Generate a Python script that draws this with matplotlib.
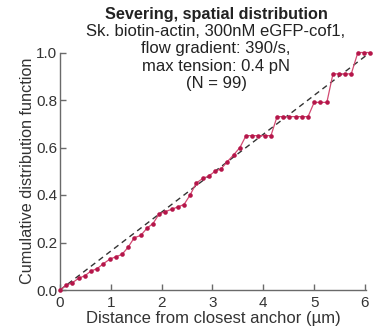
import matplotlib.pyplot as plt

plt.rcParams.update({"font.family": "Liberation Sans"})

# binned cumulative distribution of severing positions (N = 99)
distance_um = [0.00, 0.12, 0.24, 0.37, 0.49, 0.61, 0.73, 0.85, 0.98, 1.10,
               1.22, 1.34, 1.46, 1.59, 1.71, 1.83, 1.95, 2.07, 2.20, 2.32,
               2.44, 2.56, 2.68, 2.81, 2.93, 3.05, 3.17, 3.29, 3.42, 3.54,
               3.66, 3.78, 3.90, 4.03, 4.15, 4.27, 4.39, 4.51, 4.64, 4.76,
               4.88, 5.00, 5.12, 5.25, 5.37, 5.49, 5.61, 5.73, 5.86, 5.98,
               6.10]
cdf = [0.00, 0.02, 0.03, 0.05, 0.06, 0.08, 0.09, 0.11, 0.13, 0.14,
       0.15, 0.18, 0.22, 0.23, 0.26, 0.28, 0.32, 0.33, 0.34, 0.35,
       0.36, 0.40, 0.45, 0.47, 0.48, 0.50, 0.51, 0.54, 0.57, 0.60,
       0.65, 0.65, 0.65, 0.65, 0.65, 0.73, 0.73, 0.73, 0.73, 0.73,
       0.73, 0.79, 0.79, 0.79, 0.91, 0.91, 0.91, 0.91, 1.00, 1.00,
       1.00]
# uniform distribution reference
uniform_x = [0.0, 6.1]
uniform_y = [0.0, 1.0]

xticks = [0, 1, 2, 3, 4, 5, 6]
yticks = [0.0, 0.2, 0.4, 0.6, 0.8, 1.0]

RED = "#b5164a"
LINE_RED = "#d24a72"
SPINE = "#6a6a6a"

fig = plt.figure(figsize=(3.8, 3.31), dpi=100)
ax = fig.add_axes([60 / 380, 41 / 331, 306 / 380, 237.5 / 331])

ax.plot(uniform_x, uniform_y, color="#333333", lw=1.0, dashes=(4, 3),
        clip_on=False, zorder=2)
ax.plot(distance_um, cdf, color=LINE_RED, lw=0.9, clip_on=False, zorder=3)
ax.plot(distance_um, cdf, "o", color=RED, ms=3.3, mec="none",
        clip_on=False, zorder=4)

ax.set_xlim(0, 6.02)
ax.set_ylim(0, 1.0)
ax.set_xticks(xticks)
ax.set_yticks(yticks)
ax.set_xticklabels([str(t) for t in xticks])
ax.set_yticklabels([f"{t:.1f}" for t in yticks])

for side in ("top", "right"):
    ax.spines[side].set_visible(False)
for side in ("left", "bottom"):
    ax.spines[side].set_color(SPINE)
    ax.spines[side].set_linewidth(1.0)
ax.tick_params(direction="in", length=4, width=1.0, color=SPINE,
               labelsize=11, labelcolor="#333333")
ax.tick_params(axis="x", pad=4)
ax.tick_params(axis="y", pad=2)

ax.set_xlabel("Distance from closest anchor (\u00b5m)", fontsize=12,
              color="#333333", labelpad=1)
ax.set_ylabel("Cumulative distribution function", fontsize=11.7,
              color="#333333", labelpad=1)

fig.text(216 / 380, 1 - 14 / 331, "Severing, spatial distribution",
         ha="center", va="center", fontsize=11.7, fontweight="bold",
         color="#222222")
fig.text(216 / 380, 1 - 57.5 / 331,
         "Sk. biotin-actin, 300nM eGFP-cof1,\nflow gradient: 390/s,\n"
         "max tension: 0.4 pN\n(N = 99)",
         ha="center", va="center", fontsize=12, color="#222222",
         linespacing=1.2)

fig.savefig("out.png", dpi=100)
